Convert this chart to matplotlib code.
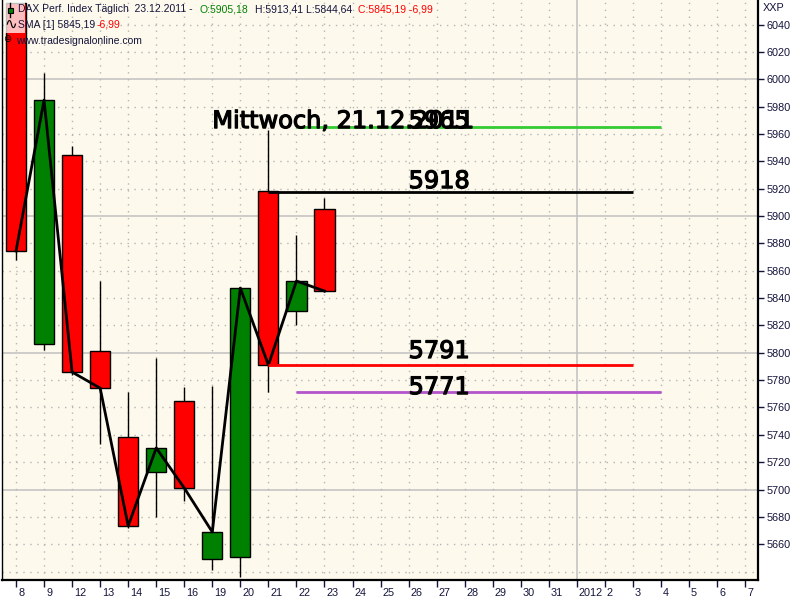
import matplotlib
matplotlib.use("Agg")
import matplotlib.pyplot as plt
import matplotlib.patheffects as pe
from matplotlib.patches import Rectangle
from matplotlib.transforms import ScaledTranslation

# ---- data ----
dates = ['8', '9', '12', '13', '14', '15', '16', '19', '20', '21', '22', '23']
opens = [6056.0, 5806.4, 5944.7, 5801.3, 5738.4, 5712.8, 5764.7, 5649.1, 5650.6, 5918.6, 5830.6, 5905.18]
highs = [6056.0, 6004.7, 5951.3, 5852.5, 5771.3, 5796.2, 5775.0, 5775.7, 5848.0, 5963.0, 5886.2, 5913.41]
lows = [5867.9, 5802.0, 5784.0, 5733.3, 5672.0, 5679.9, 5691.6, 5641.1, 5636.0, 5771.3, 5820.3, 5844.64]
closes = [5874.5, 5984.9, 5785.9, 5774.2, 5673.3, 5730.4, 5701.1, 5668.9, 5847.4, 5791.0, 5852.5, 5845.19]
sma1 = closes  # SMA [1]

xlabels = ['8', '9', '12', '13', '14', '15', '16', '19', '20', '21', '22', '23', '24', '25',
           '26', '27', '28', '29', '30', '31', '2012', '2', '3', '4', '5', '6', '7']

level_values = [5965, 5918, 5791, 5771]
level_colors = ['#33CC33', '#000000', '#FF0000', '#B455CC']
level_start = [10, 9, 9, 10]
level_end = [23, 22, 22, 23]

notes = ['Mittwoch, 21.12.2011', '5965', '5918', '5791', '5771']
note_x = [7, 14, 14, 14, 14]
note_y = [5964.4, 5964.4, 5920.5, 5796.2, 5769.8]

yticks = list(range(5660, 6041, 20))

# ---- figure ----
fig = plt.figure(figsize=(8, 6), dpi=100, facecolor='white')
ax = fig.add_axes([2/800, 20/600, 756/800, 580/600])
bg = '#FDF9EC'
ax.set_facecolor(bg)
ax.set_xlim(-0.5, 26.46)
ax.set_ylim(5633.8, 6058.1)

# grid
for v in yticks + [5640]:
    if v % 100 == 0:
        ax.axhline(v, color='#C0C0C0', lw=1.1, zorder=0.5)
    else:
        ax.axhline(v, color='#B5B5B5', lw=1, ls=(0, (1, 4)), zorder=0.5)
for i in range(len(xlabels)):
    if xlabels[i] == '2012':
        ax.axvline(i, color='#C0C0C0', lw=1.1, zorder=0.5)
    else:
        ax.axvline(i, color='#B5B5B5', lw=1, ls=(0, (1, 4)), zorder=0.5)

# candles
xs = list(range(len(dates)))
ax.vlines(xs, lows, highs, color='black', lw=1, zorder=2)
for i in xs:
    up = closes[i] >= opens[i]
    ax.bar(i, closes[i] - opens[i], bottom=opens[i], width=0.72,
           color='#008000' if up else '#FF0000', edgecolor='black', lw=1, zorder=3)

# SMA line
ax.plot(xs, sma1, color='black', lw=2, zorder=4)

# levels
for v, c, s, e in zip(level_values, level_colors, level_start, level_end):
    ax.hlines(v, s, e, color=c, lw=2, zorder=5)

# notes
for t, x, y in zip(notes, note_x, note_y):
    ax.text(x, y, t, fontsize=17.3, family='DejaVu Sans', color='black',
            ha='left', va='baseline', zorder=6,
            path_effects=[pe.withStroke(linewidth=0.9, foreground='black')])

# spines
ax.spines['top'].set_visible(False)
ax.spines['left'].set_linewidth(1)
ax.spines['right'].set_linewidth(1.6)
ax.spines['bottom'].set_linewidth(1.6)
for s in ax.spines.values():
    s.set_color('black')

# y axis on right
ax.yaxis.tick_right()
ax.set_yticks(yticks)
ax.set_yticklabels([str(v) for v in yticks], fontsize=7.8, family='Liberation Sans', color='#14143C')
ax.tick_params(axis='y', length=4, width=1, color='#14143C', pad=2)

# x axis
ax.set_xticks(range(len(xlabels)))
ax.set_xticklabels(xlabels, fontsize=7.8, family='Liberation Sans', color='#14143C')
ax.tick_params(axis='x', length=5, width=1, color='#14143C', pad=1)
off = ScaledTranslation(2/100, 0, fig.dpi_scale_trans)
for lab in ax.get_xticklabels():
    lab.set_horizontalalignment('left')
    lab.set_transform(lab.get_transform() + off)

# header
def ftext(x, y, s, color, size=7.5, family='Liberation Sans'):
    fig.text(x/800, 1 - y/600, s, color=color, fontsize=size, family=family,
             ha='left', va='center', zorder=10)

fig.add_artist(Rectangle((5/800, 1 - 33/600), 20/800, 33/600, transform=fig.transFigure,
                         facecolor='white', alpha=0.75, edgecolor='none', zorder=8))
navy = '#14143C'
ftext(18, 9.5, 'DAX Perf. Index Täglich  23.12.2011 -', navy)
ftext(200, 9.5, 'O:5905,18', '#008000')
ftext(255, 9.5, 'H:5913,41 L:5844,64', navy)
ftext(358, 9.5, 'C:5845,19 -6,99', '#FF0000')
ftext(18, 24.5, 'SMA [1] 5845,19', navy)
ftext(97, 24.5, '-6,99', '#FF0000')
ftext(16, 41.5, 'www.tradesignalonline.com', navy)
# icons
fig.add_artist(plt.Line2D([10/800, 10/800], [1 - 3/600, 1 - 17/600], transform=fig.transFigure,
                          color='black', lw=1, zorder=9))
fig.add_artist(Rectangle((7.5/800, 1 - 12.5/600), 5/800, 5/600, transform=fig.transFigure,
                         facecolor='#008000', edgecolor='black', lw=0.8, zorder=10))
ftext(4, 24.5, '∿', 'black', size=11, family='DejaVu Sans')
ftext(3, 39, '⊜', 'black', size=7, family='DejaVu Sans')
ftext(763, 8, 'XXP', navy, size=7.8)

fig.savefig('out.png', dpi=100, facecolor='white')
